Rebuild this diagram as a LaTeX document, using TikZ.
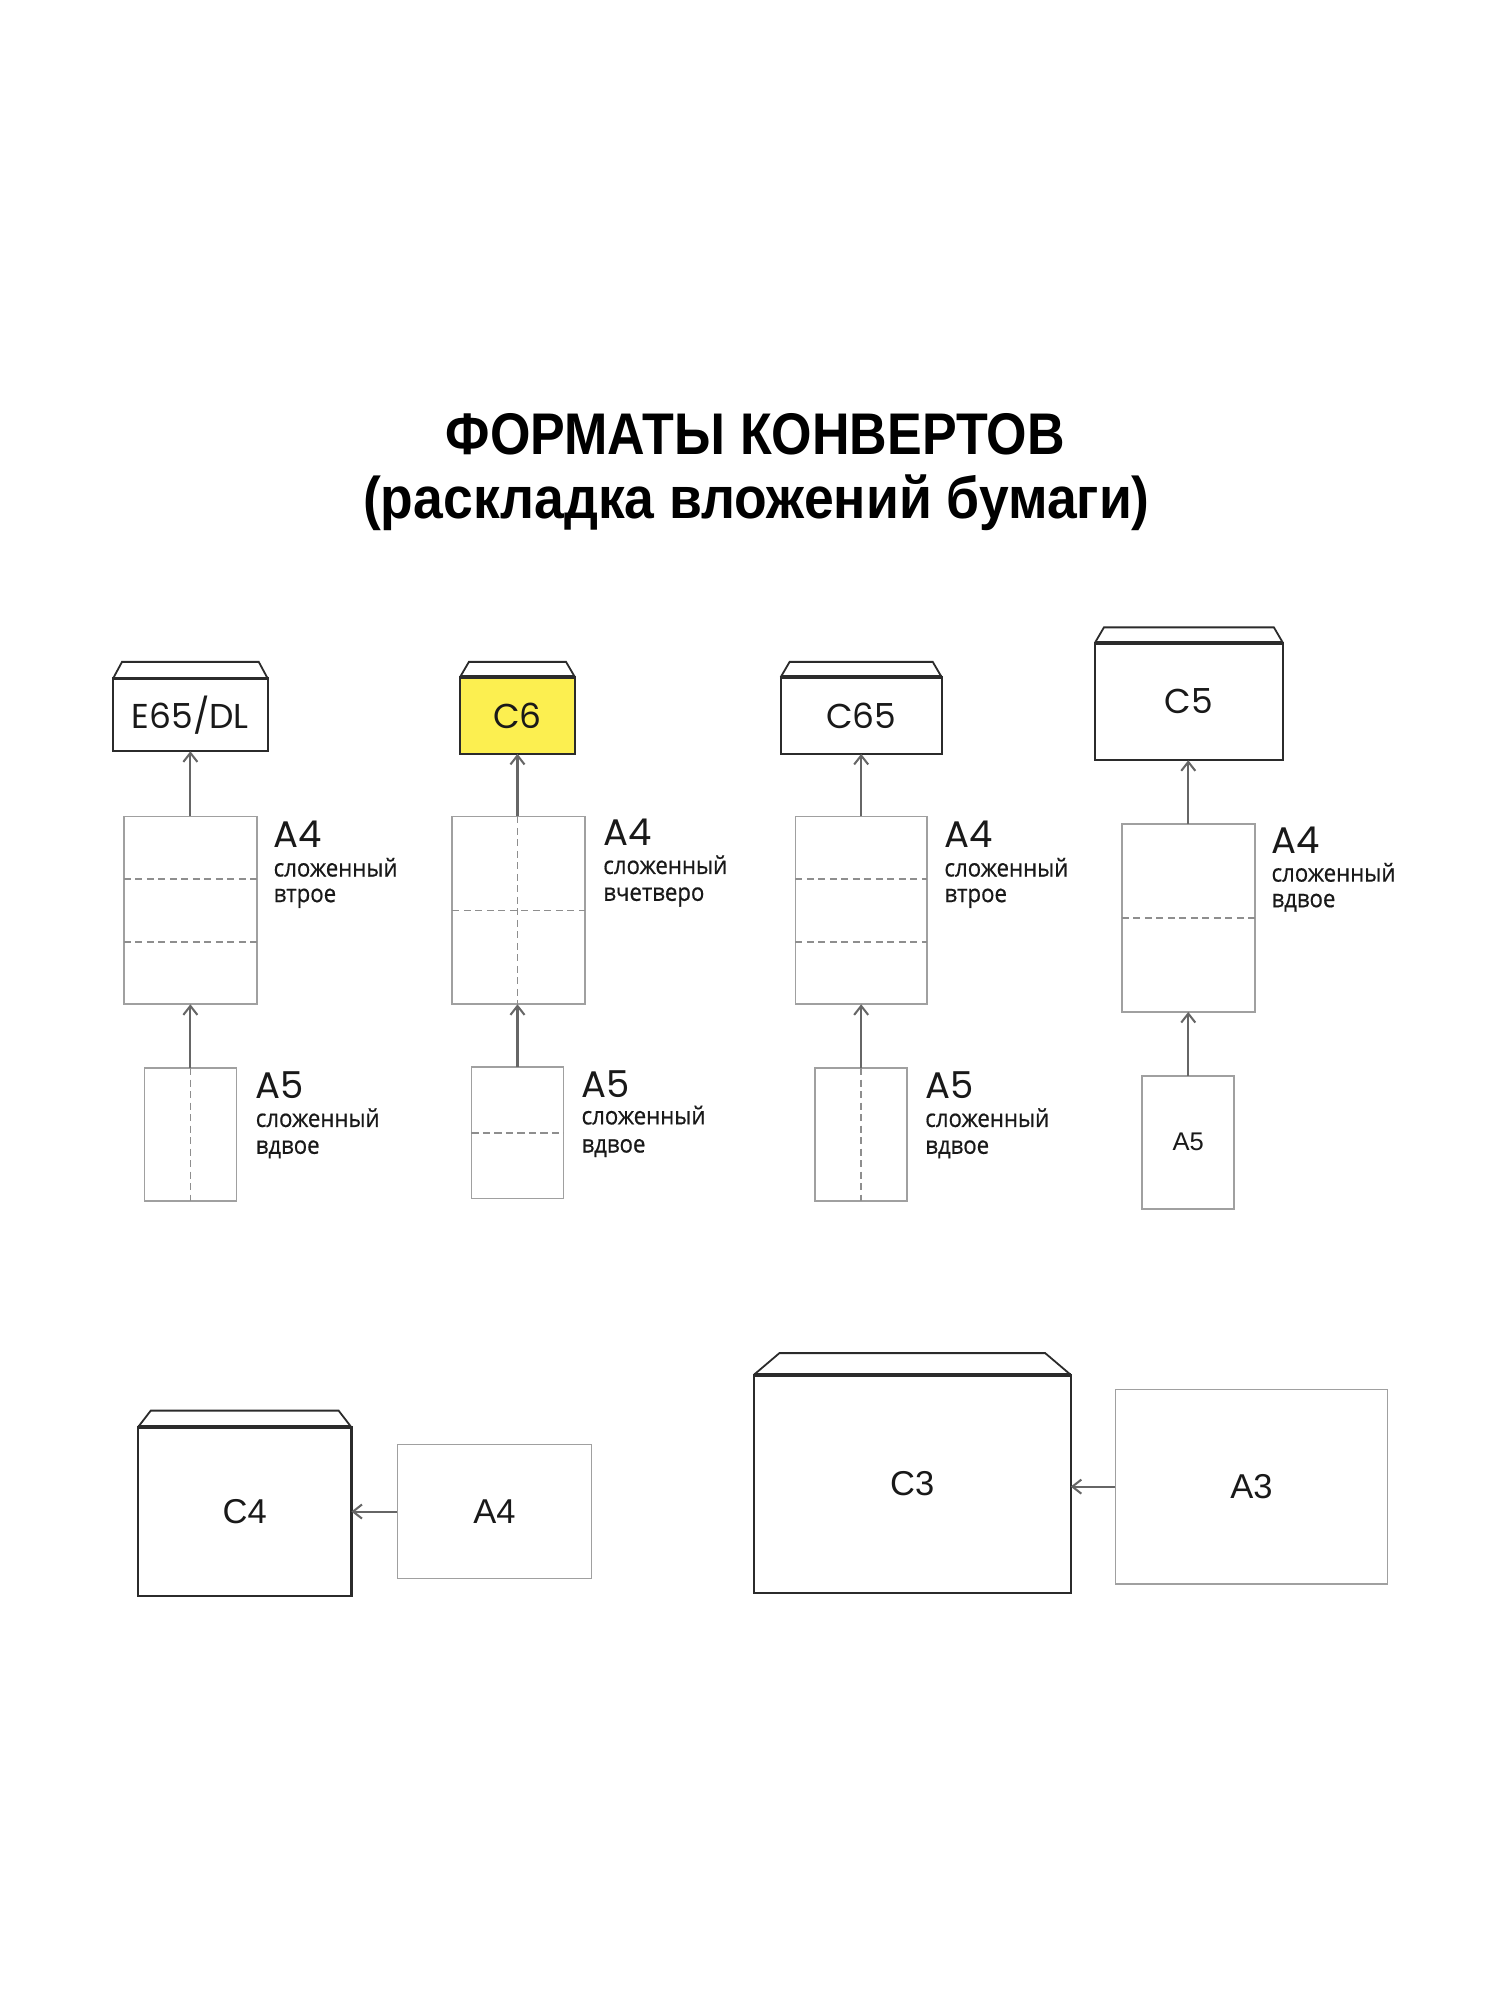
\documentclass[tikz,border=0pt]{standalone}
\usepackage{fontspec}
\setmainfont{Liberation Sans}
\newfontfamily\titlefonta{Liberation Sans}[FakeStretch=0.885]
\newfontfamily\titlefontb{Liberation Sans}[FakeStretch=0.91]
\newfontfamily\geofont{Poppins}
\newfontfamily\cyrfont{Open Sans}[FakeStretch=0.9,FakeBold=0.6]
\usetikzlibrary{arrows.meta,calc}
\definecolor{envline}{HTML}{2B2B2B}
\definecolor{sheetline}{HTML}{A0A0A0}
\definecolor{dashcol}{HTML}{8E8E8E}
\definecolor{arrcol}{HTML}{666666}
\definecolor{yellowfill}{HTML}{FCEF50}
\newcommand\envflap[3]{%
  \draw[flapline] (#1.north west) -- ++(#2,-#3) -- ($(#1.north east)+(-#2,-#3)$) -- (#1.north east);
  \draw[envtop] (#1.north west) -- (#1.north east);}
\begin{document}
\begin{tikzpicture}[x=1pt,y=-1pt,
  envbox/.style={draw=envline, line width=1.8pt, inner sep=0pt, outer sep=0pt,
    font=\geofont\fontsize{27}{30}\selectfont, text=black!90},
  flapline/.style={draw=envline, line width=1.4pt, line join=miter},
  envtop/.style={draw=envline, line width=3pt},
  sheetbox/.style={draw=sheetline, line width=1.3pt, inner sep=0pt, outer sep=0pt},
  fold/.style={draw=dashcol, line width=1.3pt, dash pattern=on 5.5pt off 3.5pt},
  arr/.style={draw=arrcol, line width=1.6pt, -{Straight Barb[length=7pt,width=11pt]}},
  bigl/.style={font=\geofont\fontsize{29}{30}\selectfont, anchor=base west, inner sep=0pt, text=black!90},
  smalll/.style={font=\cyrfont\fontsize{19.3}{20}\selectfont, anchor=base west, inner sep=0pt, text=black!90},
  plainl/.style={font=\fontsize{27}{30}\selectfont, text=black!90}
]
\fill[white] (0,0) rectangle (1174,1565.3);
\useasboundingbox (0,0) rectangle (1174,1565.3);

% title
\node[font=\titlefonta\bfseries\fontsize{46}{50}\selectfont, anchor=base, inner sep=0pt] (title1) at (591,356) {ФОРМАТЫ КОНВЕРТОВ};
\node[font=\titlefontb\bfseries\fontsize{46}{50}\selectfont, anchor=base, inner sep=0pt] (title2) at (592,406) {(раскладка вложений бумаги)};

% column 1
\node[envbox, minimum width=121pt, minimum height=57pt] (e1) at (149,559.5) {E65/DL};
\envflap{e1}{7}{13}
\node[sheetbox, minimum width=104pt, minimum height=147pt] (s1) at (149,712.5) {};
\draw[fold] ($(s1.north west)!1/3!(s1.south west)$) -- ($(s1.north east)!1/3!(s1.south east)$);
\draw[fold] ($(s1.north west)!2/3!(s1.south west)$) -- ($(s1.north east)!2/3!(s1.south east)$);
\node[sheetbox, minimum width=72pt, minimum height=104pt] (t1) at (149,888) {};
\draw[fold] (t1.north) -- (t1.south);
\draw[arr] (s1.north) -- (s1.north |- e1.south);
\draw[arr] (t1.north) -- (t1.north |- s1.south);
\node[bigl] (l1a) at (214,663) {A4};
\node[smalll] (l1b) at (214,686) {сложенный};
\node[smalll] (l1c) at (214,706) {втрое};
\node[bigl] (l1d) at (200,860) {A5};
\node[smalll] (l1e) at (200,882) {сложенный};
\node[smalll] (l1f) at (200,903) {вдвое};

% column 2
\node[envbox, fill=yellowfill, minimum width=90pt, minimum height=60pt] (e2) at (405,560) {C6};
\envflap{e2}{7}{12}
\node[sheetbox, minimum width=104pt, minimum height=147pt] (s2) at (406,712.5) {};
\draw[fold] (s2.west) -- (s2.east);
\draw[fold] (s2.north -| e2.south) -- (s2.south -| e2.south);
\node[sheetbox, minimum width=72pt, minimum height=103pt] (t2) at (405,886.5) {};
\draw[fold] (t2.west) -- (t2.east);
\draw[arr] (s2.north -| e2.south) -- (e2.south);
\draw[arr] (t2.north) -- (t2.north |- s2.south);
\node[bigl] (l2a) at (472,662) {A4};
\node[smalll] (l2b) at (472,684) {сложенный};
\node[smalll] (l2c) at (472,705) {вчетверо};
\node[bigl] (l2d) at (455,859) {A5};
\node[smalll] (l2e) at (455,880) {сложенный};
\node[smalll] (l2f) at (455,902) {вдвое};

% column 3
\node[envbox, minimum width=126pt, minimum height=60pt] (e3) at (674,560) {C65};
\envflap{e3}{7}{12}
\node[sheetbox, minimum width=103pt, minimum height=147pt] (s3) at (674,712.5) {};
\draw[fold] ($(s3.north west)!1/3!(s3.south west)$) -- ($(s3.north east)!1/3!(s3.south east)$);
\draw[fold] ($(s3.north west)!2/3!(s3.south west)$) -- ($(s3.north east)!2/3!(s3.south east)$);
\node[sheetbox, minimum width=72pt, minimum height=104pt] (t3) at (674,888) {};
\draw[fold] (t3.north) -- (t3.south);
\draw[arr] (s3.north) -- (s3.north |- e3.south);
\draw[arr] (t3.north) -- (t3.north |- s3.south);
\node[bigl] (l3a) at (739,663) {A4};
\node[smalll] (l3b) at (739,686) {сложенный};
\node[smalll] (l3c) at (739,706) {втрое};
\node[bigl] (l3d) at (724,860) {A5};
\node[smalll] (l3e) at (724,882) {сложенный};
\node[smalll] (l3f) at (724,903) {вдвое};

% column 4
\node[envbox, minimum width=147pt, minimum height=92pt] (e4) at (930.5,549) {C5};
\envflap{e4}{7}{12}
\node[sheetbox, minimum width=104pt, minimum height=147pt] (s4) at (930,718.5) {};
\draw[fold] (s4.west) -- (s4.east);
\node[sheetbox, minimum width=72pt, minimum height=104pt, font=\fontsize{20}{22}\selectfont, text=black!90] (t4) at (930,894) {A5};
\draw[arr] (s4.north) -- (s4.north |- e4.south);
\draw[arr] (t4.north) -- (t4.north |- s4.south);
\node[bigl] (l4a) at (995,668) {A4};
\node[smalll] (l4b) at (995,690) {сложенный};
\node[smalll] (l4c) at (995,710) {вдвое};

% bottom left: C4
\node[envbox, plainl, minimum width=167pt, minimum height=132pt] (e5) at (191.5,1183) {C4};
\envflap{e5}{10}{13}
\node[sheetbox, plainl, minimum width=152pt, minimum height=105pt] (s5) at (387,1183) {A4};
\draw[arr] (s5.west) -- (s5.west -| e5.east);

% bottom right: C3
\node[envbox, plainl, minimum width=248pt, minimum height=171pt] (e6) at (714,1161.5) {C3};
\envflap{e6}{20}{17}
\node[sheetbox, plainl, minimum width=213pt, minimum height=152pt] (s6) at (979.5,1163.5) {A3};
\draw[arr] (s6.west) -- (s6.west -| e6.east);
\end{tikzpicture}
\end{document}
